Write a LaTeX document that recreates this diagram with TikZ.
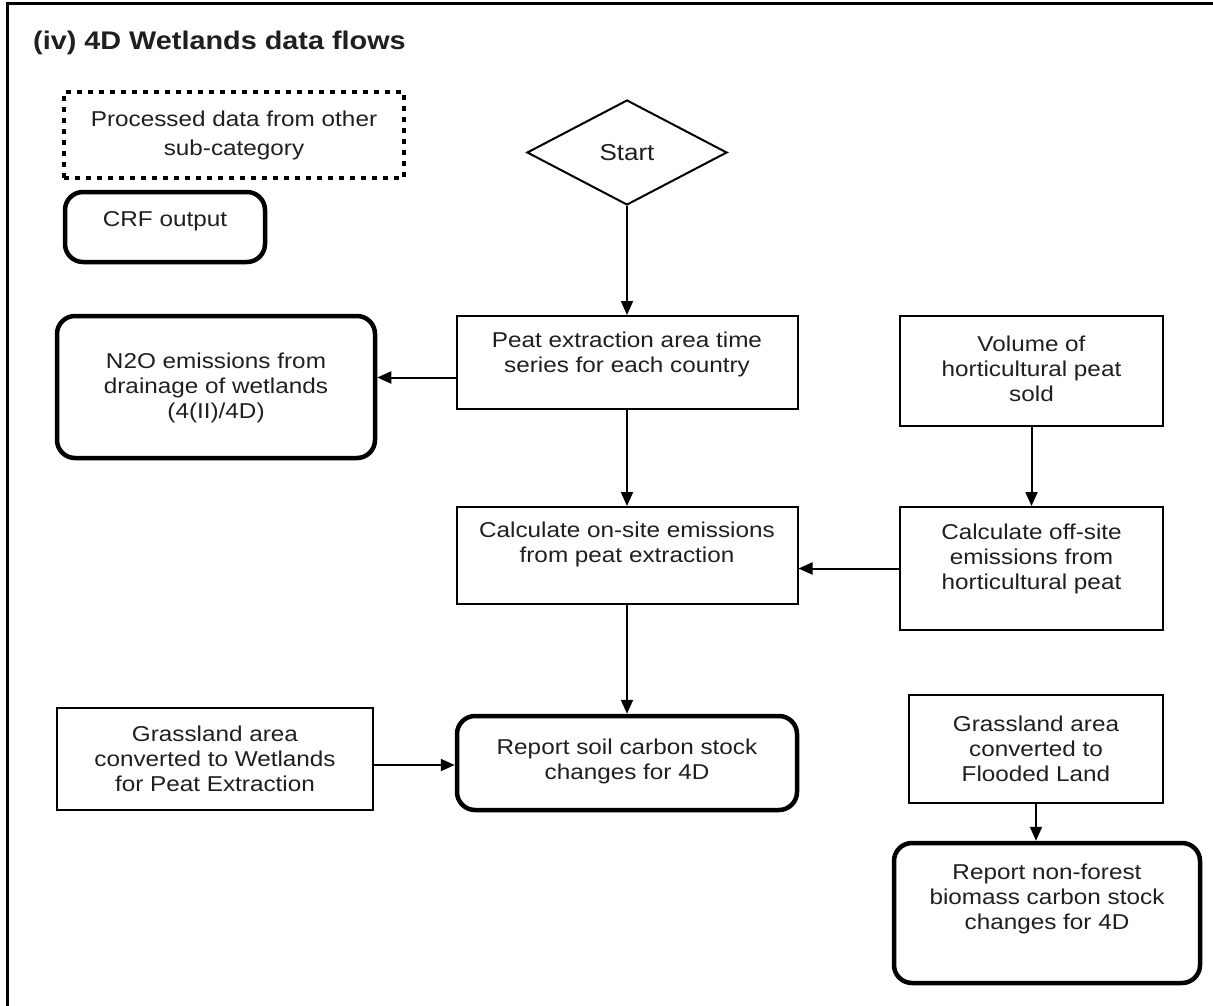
\documentclass[tikz,border=0pt]{standalone}
\usepackage{fontspec}
\setmainfont{Liberation Sans}[FakeStretch=1.13]
\usetikzlibrary{shapes.geometric,arrows.meta}
\begin{document}
\begin{tikzpicture}[x=1pt,y=-1pt,
  txt/.style={font=\fontsize{21.5}{25}\selectfont, align=center, text=black!88, inner sep=0pt},
  thinbox/.style={draw, line width=2pt, inner sep=0pt},
  thickbox/.style={draw, line width=4.5pt, rounded corners=18pt, inner sep=0pt},
  dotbox/.style={draw, line width=4.5pt, dash pattern=on 5pt off 6pt, inner sep=0pt},
  arr/.style={line width=2pt, -{Triangle[length=14pt,width=12pt]}},
]
\useasboundingbox (0,0) rectangle (1213,1006);
\fill[white] (0,0) rectangle (1213,1006);
\draw[line width=3pt] (7,1010) -- (7,4) -- (1216,4);

\node[anchor=base west, inner sep=0pt, font=\fontsize{25.5}{30}\selectfont\bfseries, text=black!88] (title) at (33,50) {(iv) 4D Wetlands data flows};

% legend
\node[dotbox, minimum width=340pt, minimum height=86pt] (other) at (234,135) {};
\node[txt, font=\fontsize{21.5}{29}\selectfont] (otherT) at (234,135) {Processed data from other\\sub-category};
\node[thickbox, minimum width=200pt, minimum height=70pt] (crf) at (165,227) {};
\node[txt] (crfT) at (165,221) {CRF output};

% main flow
\node[diamond, draw, line width=2pt, aspect=2, minimum width=200pt, minimum height=105pt, inner sep=0pt, font=\fontsize{23}{27}\selectfont, text=black!88] (start) at (627,152.5) {Start};

\node[thinbox, minimum width=341pt, minimum height=93pt] (peat) at (627,362.5) {};
\node[txt] (peatT) at (627,354) {Peat extraction area time\\series for each country};

\node[thickbox, minimum width=318pt, minimum height=142pt] (n2o) at (216,387) {};
\node[txt] (n2oT) at (216,388) {N2O emissions from\\drainage of wetlands\\(4(II)/4D)};

\node[thinbox, minimum width=263pt, minimum height=110pt] (volume) at (1031.5,371) {};
\node[txt] (volumeT) at (1031.5,369) {Volume of\\horticultural peat\\sold};

\node[thinbox, minimum width=341pt, minimum height=97pt] (onsite) at (627,555.5) {};
\node[txt] (onsiteT) at (627,544) {Calculate on-site emissions\\from peat extraction};

\node[thinbox, minimum width=263pt, minimum height=123pt] (offsite) at (1031.5,568.5) {};
\node[txt] (offsiteT) at (1031.5,559) {Calculate off-site\\emissions from\\horticultural peat};

\node[thinbox, minimum width=316pt, minimum height=102pt] (grassW) at (215,759) {};
\node[txt] (grassWT) at (215,759) {Grassland area\\converted to Wetlands\\for Peat Extraction};

\node[thickbox, minimum width=340pt, minimum height=94pt] (soil) at (627,763) {};
\node[txt] (soilT) at (627,761) {Report soil carbon stock\\changes for 4D};

\node[thinbox, minimum width=254pt, minimum height=108pt] (flooded) at (1036,749) {};
\node[txt] (floodedT) at (1036,749) {Grassland area\\converted to\\Flooded Land};

\node[thickbox, minimum width=306pt, minimum height=140pt] (nonforest) at (1047,913) {};
\node[txt] (nonforestT) at (1047,899) {Report non-forest\\biomass carbon stock\\changes for 4D};

% connectors
\draw[arr] (start.south) -- (peat.north);
\coordinate (pa) at ([yshift=-15pt]peat.west);
\draw[arr] (pa) -- (pa -| n2o.east);
\draw[arr] (peat.south) -- (onsite.north);
\draw[arr] (volume.south) -- (offsite.north);
\draw[arr] (offsite.west) -- (offsite.west -| onsite.east);
\draw[arr] (onsite.south) -- (soil.north);
\coordinate (ga) at ([yshift=-6pt]grassW.east);
\draw[arr] (ga) -- (ga -| soil.west);
\draw[arr] (flooded.south) -- (flooded.south |- nonforest.north);
\end{tikzpicture}
\end{document}
